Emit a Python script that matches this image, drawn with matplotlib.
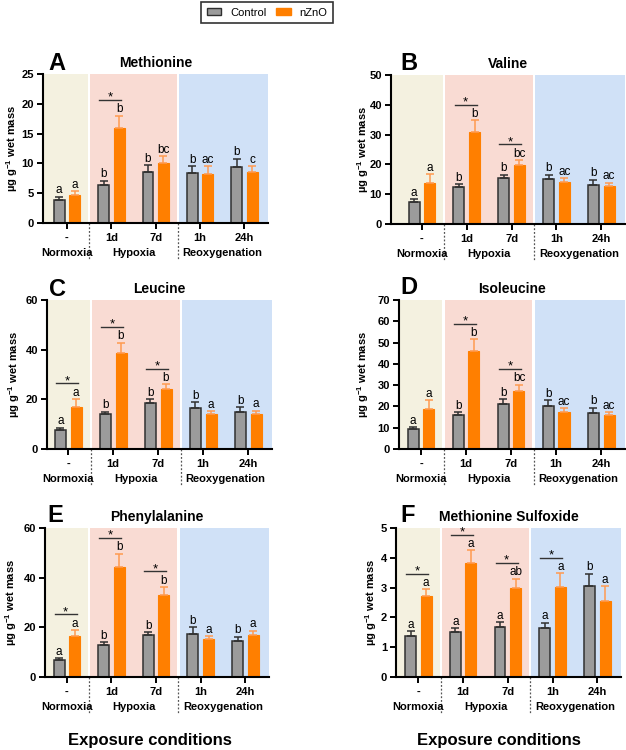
import matplotlib
matplotlib.use('Agg')
import matplotlib.pyplot as plt
import numpy as np
from matplotlib.patches import Patch
from matplotlib.transforms import blended_transform_factory

plt.rcParams['font.family'] = ['Liberation Sans', 'DejaVu Sans']
plt.rcParams['mathtext.fontset'] = 'custom'
plt.rcParams['mathtext.rm'] = 'Liberation Sans:bold'
plt.rcParams['mathtext.bf'] = 'Liberation Sans:bold'
plt.rcParams['mathtext.default'] = 'bf'

# ---------------- data ----------------
groups = ['-', '1d', '7d', '1h', '24h']
conditions = ['Normoxia', 'Hypoxia', 'Reoxygenation']
condition_pos = [0, 1.5, 3.5]

met_ctrl = [3.8, 6.4, 8.6, 8.4, 9.4]
met_ctrl_err = [0.6, 0.7, 1.05, 1.2, 1.4]
met_zno = [4.7, 15.9, 10.0, 8.2, 8.6]
met_zno_err = [0.7, 2.1, 1.2, 1.3, 0.9]
met_ctrl_let = ['a', 'b', 'b', 'b', 'b']
met_zno_let = ['a', 'b', 'bc', 'ac', 'c']
met_star = [False, True, False, False, False]

val_ctrl = [7.5, 12.5, 15.4, 15.0, 13.0]
val_ctrl_err = [0.9, 0.9, 1.2, 1.6, 1.9]
val_zno = [13.6, 30.9, 19.8, 14.0, 12.6]
val_zno_err = [3.1, 3.9, 1.7, 1.3, 1.3]
val_ctrl_let = ['a', 'b', 'b', 'b', 'b']
val_zno_let = ['a', 'b', 'bc', 'ac', 'ac']
val_star = [False, True, True, False, False]

leu_ctrl = [7.7, 14.0, 18.4, 16.6, 14.9]
leu_ctrl_err = [0.9, 1.0, 1.7, 2.2, 2.1]
leu_zno = [17.0, 38.5, 24.2, 14.1, 14.1]
leu_zno_err = [3.1, 4.3, 1.8, 1.1, 1.3]
leu_ctrl_let = ['a', 'b', 'b', 'b', 'b']
leu_zno_let = ['a', 'b', 'b', 'a', 'a']
leu_star = [True, True, True, False, False]

ile_ctrl = [9.2, 15.9, 21.3, 20.3, 16.9]
ile_ctrl_err = [1.1, 1.3, 2.1, 2.7, 2.5]
ile_zno = [18.8, 45.9, 27.3, 17.3, 15.8]
ile_zno_err = [4.2, 5.7, 2.9, 1.8, 1.5]
ile_ctrl_let = ['a', 'b', 'b', 'b', 'b']
ile_zno_let = ['a', 'b', 'bc', 'ac', 'ac']
ile_star = [False, True, True, False, False]

phe_ctrl = [6.8, 12.8, 16.8, 17.3, 14.5]
phe_ctrl_err = [0.9, 1.3, 1.3, 2.8, 1.8]
phe_zno = [16.7, 44.1, 33.2, 15.3, 16.9]
phe_zno_err = [2.2, 5.6, 3.1, 1.2, 1.8]
phe_ctrl_let = ['a', 'b', 'b', 'b', 'b']
phe_zno_let = ['a', 'b', 'b', 'a', 'a']
phe_star = [True, True, True, False, False]

mso_ctrl = [1.37, 1.52, 1.67, 1.65, 3.05]
mso_ctrl_err = [0.16, 0.12, 0.17, 0.17, 0.42]
mso_zno = [2.72, 3.83, 2.99, 3.03, 2.54]
mso_zno_err = [0.22, 0.42, 0.31, 0.45, 0.50]
mso_ctrl_let = ['a', 'a', 'a', 'a', 'b']
mso_zno_let = ['a', 'a', 'ab', 'a', 'a']
mso_star = [True, True, True, True, False]

# ---------------- style ----------------
W, H = 626, 750
GRAY = '#9b9b9b'
GRAY_EDGE = '#303030'
ORANGE = '#ff7f00'
ORANGE_ERR = '#ff9a50'
BANDS = ['#f4f1e0', '#f9dbd3', '#d0e1f7']

fig = plt.figure(figsize=(W / 100, H / 100), dpi=100)


def box(l, r, t, b):
    return [l / W, 1 - b / H, (r - l) / W, (b - t) / H]


panels = [
    dict(title='Methionine', letter='A', ctrl=met_ctrl, ce=met_ctrl_err, zno=met_zno, ze=met_zno_err,
         cl=met_ctrl_let, zl=met_zno_let, star=met_star, ymax=25, ystep=5,
         box=(43, 268, 74, 223), xl=-0.54, ylab_x=12, let_xy=(48, 63)),
    dict(title='Valine', letter='B', ctrl=val_ctrl, ce=val_ctrl_err, zno=val_zno, ze=val_zno_err,
         cl=val_ctrl_let, zl=val_zno_let, star=val_star, ymax=50, ystep=10,
         box=(391, 625, 75, 224), xl=-0.69, ylab_x=363, let_xy=(400, 63)),
    dict(title='Leucine', letter='C', ctrl=leu_ctrl, ce=leu_ctrl_err, zno=leu_zno, ze=leu_zno_err,
         cl=leu_ctrl_let, zl=leu_zno_let, star=leu_star, ymax=60, ystep=20,
         box=(47, 272, 300, 449), xl=-0.47, ylab_x=14, let_xy=(49, 289)),
    dict(title='Isoleucine', letter='D', ctrl=ile_ctrl, ce=ile_ctrl_err, zno=ile_zno, ze=ile_zno_err,
         cl=ile_ctrl_let, zl=ile_zno_let, star=ile_star, ymax=70, ystep=10,
         box=(399, 625, 300, 449), xl=-0.49, ylab_x=363, let_xy=(400, 288)),
    dict(title='Phenylalanine', letter='E', ctrl=phe_ctrl, ce=phe_ctrl_err, zno=phe_zno, ze=phe_zno_err,
         cl=phe_ctrl_let, zl=phe_zno_let, star=phe_star, ymax=60, ystep=20,
         box=(45, 269, 528, 677), xl=-0.49, ylab_x=11, let_xy=(47, 516)),
    dict(title='Methionine Sulfoxide', letter='F', ctrl=mso_ctrl, ce=mso_ctrl_err, zno=mso_zno, ze=mso_zno_err,
         cl=mso_ctrl_let, zl=mso_zno_let, star=mso_star, ymax=5, ystep=1,
         box=(396, 621, 528, 677), xl=-0.5, ylab_x=371, let_xy=(400, 515)),
]

x = np.arange(len(groups))
off = 0.175
bw = 0.245
xr = 4.53

for p in panels:
    l, r, t, b = p['box']
    ax = fig.add_axes(box(l, r, t, b))
    hpx = b - t
    ymax = p['ymax']
    ax.set_xlim(p['xl'], xr)
    ax.set_ylim(0, ymax)
    # background bands
    ax.axvspan(p['xl'], 0.475, color=BANDS[0], lw=0, zorder=0)
    ax.axvspan(0.525, 2.475, color=BANDS[1], lw=0, zorder=0)
    ax.axvspan(2.525, xr, color=BANDS[2], lw=0, zorder=0)

    ctrl = np.array(p['ctrl']); ce = np.array(p['ce'])
    zno = np.array(p['zno']); ze = np.array(p['ze'])
    zeros = np.zeros_like(ctrl)
    ax.bar(x - off, ctrl, bw, color=GRAY, edgecolor=GRAY_EDGE, linewidth=1.1, zorder=2)
    ax.bar(x + off, zno, bw, color=ORANGE, edgecolor=ORANGE, linewidth=0.8, zorder=2)
    ax.errorbar(x - off, ctrl, yerr=[zeros, ce], fmt='none', ecolor=GRAY_EDGE,
                elinewidth=1.1, capsize=3, capthick=1.1, zorder=3)
    ax.errorbar(x + off, zno, yerr=[zeros, ze], fmt='none', ecolor=ORANGE_ERR,
                elinewidth=1.1, capsize=3, capthick=1.1, zorder=3)

    for i in range(len(groups)):
        ct = ctrl[i] + ce[i]
        zt = zno[i] + ze[i]
        ax.text(i - off, ct + 0.022 * ymax, p['cl'][i], ha='center', va='baseline', fontsize=8.5, zorder=4)
        ax.text(i + off, zt + 0.022 * ymax, p['zl'][i], ha='center', va='baseline', fontsize=8.5, zorder=4)
        if p['star'][i]:
            yl = max(zt, ct) + 0.105 * ymax
            ax.plot([i - 0.27, i + 0.22], [yl, yl], color='#333333', lw=1.0, zorder=4)
            ax.text(i - 0.025, yl - 0.005 * ymax, '*', ha='center', va='baseline', fontsize=9.5, zorder=4)

    ax.spines['top'].set_visible(False)
    ax.spines['right'].set_visible(False)
    ax.spines['left'].set_linewidth(1.5)
    ax.spines['bottom'].set_linewidth(1.5)
    ax.set_yticks(np.arange(0, ymax + 0.001, p['ystep']))
    ax.set_xticks(x)
    ax.set_xticklabels(groups)
    for lab in ax.get_xticklabels() + ax.get_yticklabels():
        lab.set_fontweight('bold')
        lab.set_fontsize(8)
    ax.tick_params(axis='both', length=4, width=1.4, pad=2.5)
    ax.tick_params(axis='x', pad=3)

    trans = blended_transform_factory(ax.transData, ax.transAxes)
    for cname, cp in zip(conditions, condition_pos):
        ax.text(cp, -30 / hpx, cname, transform=trans, ha='center', va='center',
                fontsize=8, fontweight='bold', clip_on=False)
    for sx in (0.5, 2.5):
        ax.plot([sx, sx], [0, -37 / hpx], transform=trans, color='#555555',
                lw=0.9, ls=(0, (1.5, 1.5)), clip_on=False)

    ax.set_title(p['title'], fontsize=10, fontweight='bold', pad=5)
    fig.text(p['let_xy'][0] / W, 1 - p['let_xy'][1] / H, p['letter'], fontsize=17,
             fontweight='bold', ha='left', va='center')
    fig.text(p['ylab_x'] / W, 1 - ((t + b) / 2) / H, r'µg g$^{-1}$ wet mass', rotation=90,
             ha='center', va='center', fontsize=8, fontweight='bold')

fig.text(150 / W, 1 - 740 / H, 'Exposure conditions', ha='center', va='center',
         fontsize=12, fontweight='bold')
fig.text(499 / W, 1 - 740 / H, 'Exposure conditions', ha='center', va='center',
         fontsize=12, fontweight='bold')

handles = [Patch(facecolor=GRAY, edgecolor=GRAY_EDGE, linewidth=1, label='Control'),
           Patch(facecolor=ORANGE, edgecolor=ORANGE, label='nZnO')]
leg = fig.legend(handles=handles, loc='center', bbox_to_anchor=(267 / W, 1 - 12.5 / H), ncol=2,
                 frameon=True, fancybox=False, edgecolor='black', fontsize=8,
                 handlelength=1.3, handleheight=0.6, columnspacing=0.9, handletextpad=0.8,
                 borderpad=0.5)
leg.get_frame().set_linewidth(1.2)

fig.savefig('out.png', dpi=100)
